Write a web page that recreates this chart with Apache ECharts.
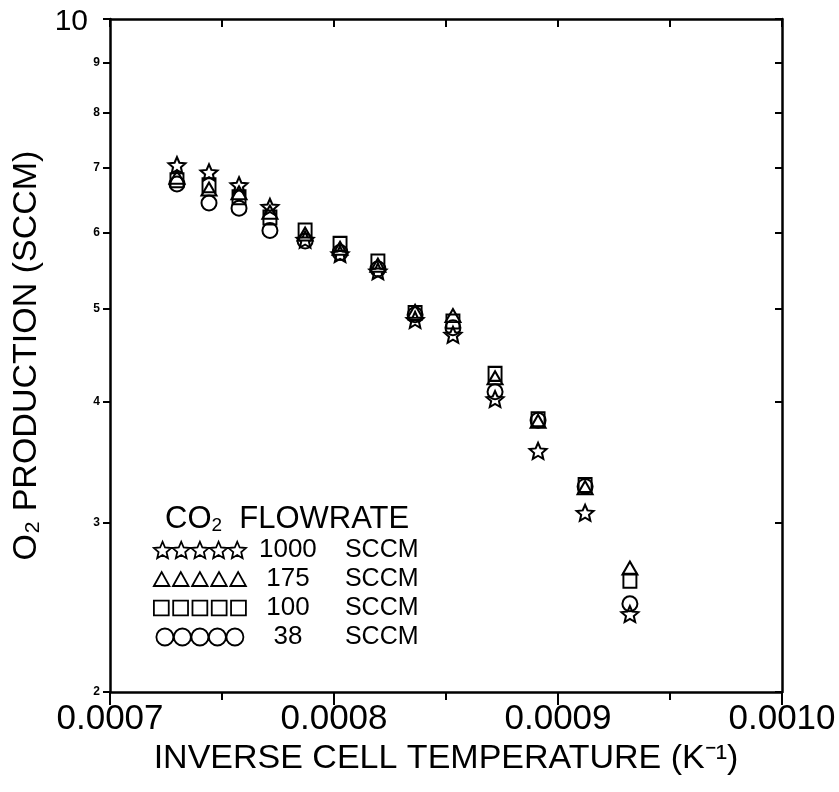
<!DOCTYPE html>
<html><head><meta charset="utf-8">
<script src="https://cdn.jsdelivr.net/npm/echarts@6/dist/echarts.min.js"></script>
<style>html,body{margin:0;padding:0;background:#fff}#c{width:839px;height:792px}</style>
</head><body><div id="c"></div>
<script>
// ---- data ----
const xValues = [0.0007299,0.0007442,0.0007576,0.0007714,0.0007871,0.0008027,0.0008196,0.0008362,0.0008531,0.0008719,0.0008911,0.0009121,0.0009321];
const flow1000 = [7.05,6.93,6.72,6.38,5.90,5.70,5.47,4.87,4.70,4.03,3.56,3.07,2.41];
const flow175  = [6.85,6.66,6.60,6.30,5.98,5.78,5.55,4.97,4.92,4.24,3.82,3.26,2.69];
const flow100  = [6.80,6.72,6.53,6.22,6.03,5.84,5.60,4.95,4.85,4.28,3.84,3.28,2.61];
const flow38   = [6.74,6.44,6.36,6.03,5.88,5.72,5.50,4.93,4.78,4.10,3.83,3.27,2.47];
const seriesNames = ['1000','175','100','38'];
const yTickValues = [2,3,4,5,6,7,8,9,10];
const xMin = 0.0007, xMax = 0.0010, xStep = 0.0001;
const yMin = 2, yMax = 10;
const xTitle = 'INVERSE CELL TEMPERATURE (K\u207B\u00B9)';
const yTitle = 'O\u2082 PRODUCTION (SCCM)';
const legendTitle = ['CO','2','FLOWRATE'];
const unitText = 'SCCM';

// ---- shape paths ----
function star(cx, cy, R, r) {
  let d = '';
  for (let i = 0; i < 10; i++) {
    const a = (-90 + i * 36) * Math.PI / 180;
    const rad = i % 2 ? r : R;
    d += (i ? 'L' : 'M') + (cx + rad * Math.cos(a)).toFixed(3) + ' ' + (cy + rad * Math.sin(a)).toFixed(3) + ' ';
  }
  return d + 'Z ';
}
function tri(cx, cy) { return `M${cx-5} ${cy+4.5} L${cx} ${cy-4.5} L${cx+5} ${cy+4.5} Z `; }
function sq(cx, cy) { return `M${cx-5} ${cy-5} L${cx+5} ${cy-5} L${cx+5} ${cy+5} L${cx-5} ${cy+5} Z `; }
function circ(cx, cy) { return `M${cx-5} ${cy} A5 5 0 1 1 ${cx+5} ${cy} A5 5 0 1 1 ${cx-5} ${cy} Z `; }
function repeat(fn, pitch) { let d = ''; for (let i = 0; i < 5; i++) d += fn(i * pitch); return 'path://' + d; }

const shapes = [
  { one: 'path://' + star(0, 0, 10, 4.6), size: [17, 16], icon: repeat(x => star(x, 0, 10, 4.6), 20.5) },
  { one: 'path://' + tri(0, 0), size: [15, 13], icon: repeat(x => tri(x, 0), 12.3) },
  { one: 'path://' + sq(0, 0), size: [13, 14], icon: repeat(x => sq(x, 0), 13) },
  { one: 'path://' + circ(0, 0), size: [15, 15], icon: repeat(x => circ(x, 0), 10.3) }
];
const allSeries = [flow1000, flow175, flow100, flow38];

const chart = echarts.init(document.getElementById('c'));
const FONT = 'Liberation Sans';
const axisLine = { show: true, lineStyle: { color: '#000', width: 2.5 } };

chart.setOption({
  backgroundColor: '#fff',
  animation: false,
  grid: { left: 110, right: 57, top: 19, bottom: 100, containLabel: false },
  title: {
    text: '{a|' + legendTitle[0] + '}{s|' + legendTitle[1] + '}{a|  ' + legendTitle[2] + '}',
    left: 160, top: 497,
    textStyle: {
      fontWeight: 'normal',
      rich: {
        a: { fontFamily: FONT, fontSize: 31, fontWeight: 'normal', color: '#000', lineHeight: 34 },
        s: { fontFamily: FONT, fontSize: 19, fontWeight: 'normal', color: '#000', padding: [14, 0, 0, 0] }
      }
    }
  },
  legend: {
    orient: 'vertical', left: 153, top: 537, padding: 0,
    itemWidth: 92, itemHeight: 17, itemGap: 3,
    data: seriesNames.map((n, i) => ({ name: n, icon: shapes[i].icon })),
    itemStyle: { color: 'rgba(0,0,0,0)', borderColor: '#000', borderWidth: 1.8 },
    formatter: n => '{n|' + n + '}{u|' + unitText + '}',
    textStyle: {
      color: '#000',
      rich: {
        n: { fontFamily: FONT, fontSize: 26, color: '#000', width: 74, align: 'right', lineHeight: 25 },
        u: { fontFamily: FONT, fontSize: 25, color: '#000', padding: [0, 0, 0, 20], lineHeight: 25 }
      }
    }
  },
  xAxis: [
    {
      type: 'value', position: 'bottom', min: xMin, max: xMax, interval: xStep,
      axisLine,
      splitLine: { show: false },
      axisTick: { show: true, inside: false, length: 13, lineStyle: { color: '#000', width: 2 } },
      minorTick: { show: true, splitNumber: 2, length: 8, lineStyle: { color: '#000', width: 2 } },
      axisLabel: { formatter: v => v.toFixed(4), fontFamily: FONT, fontSize: 35, color: '#000', margin: 10 },
      name: xTitle, nameLocation: 'middle', nameGap: 48,
      nameTextStyle: { fontFamily: FONT, fontSize: 34, color: '#000' }
    },
    {
      type: 'value', position: 'top', min: xMin, max: xMax, interval: xStep,
      axisLine,
      splitLine: { show: false },
      axisTick: { show: true, inside: true, length: 8, lineStyle: { color: '#000', width: 2 } },
      minorTick: { show: true, splitNumber: 2, length: 8, lineStyle: { color: '#000', width: 2 } },
      axisLabel: { show: false }
    }
  ],
  yAxis: [
    {
      type: 'log', logBase: 10, position: 'left', min: yMin, max: yMax,
      axisLine,
      splitLine: { show: false },
      axisTick: { show: true, inside: false, length: 7, customValues: yTickValues, lineStyle: { color: '#000', width: 2 } },
      axisLabel: {
        customValues: yTickValues, margin: 10,
        formatter: v => { const r = Math.round(v); return r === 10 ? '{big|10}' : '{sm|' + r + '}'; },
        rich: {
          big: { fontFamily: FONT, fontSize: 30, color: '#000', padding: [6, 12, 0, 0] },
          sm: { fontFamily: FONT, fontSize: 12, fontWeight: 'bold', color: '#000' }
        }
      },
      name: yTitle, nameLocation: 'middle', nameGap: 62, nameRotate: 90,
      nameTextStyle: { fontFamily: FONT, fontSize: 34, color: '#000' }
    },
    {
      type: 'log', logBase: 10, position: 'right', min: yMin, max: yMax,
      axisLine,
      splitLine: { show: false },
      axisTick: { show: true, inside: true, length: 7, customValues: yTickValues, lineStyle: { color: '#000', width: 2 } },
      axisLabel: { show: false }
    }
  ],
  series: seriesNames.map((n, i) => ({
    name: n, type: 'scatter', xAxisIndex: 0, yAxisIndex: 0,
    symbol: shapes[i].one, symbolSize: shapes[i].size,
    itemStyle: { color: 'rgba(0,0,0,0)', borderColor: '#000', borderWidth: 2, opacity: 1 },
    emphasis: { disabled: true },
    data: xValues.map((x, k) => [x, allSeries[i][k]])
  }))
});
</script></body></html>
